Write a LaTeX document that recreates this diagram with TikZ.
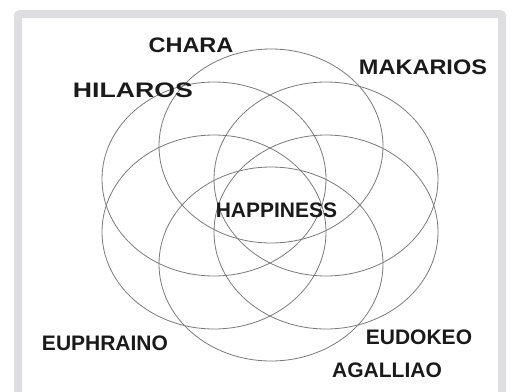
\documentclass[tikz,border=0pt]{standalone}
\usepackage{fontspec}
\setmainfont{Liberation Sans}
\usepackage{graphicx}
\usepackage{xcolor}
\definecolor{framegray}{HTML}{DEDEE0}
\definecolor{ringgray}{HTML}{7A7A7A}
\definecolor{wordblack}{HTML}{1A1A1A}
\usetikzlibrary{positioning}
\tikzset{
  ring/.style ={draw=ringgray, line width=0.8pt},
  frame/.style={draw=framegray, line width=8pt, rounded corners=2pt},
  wordlbl/.style={font=\fontsize{21}{25}\selectfont\bfseries, text=wordblack, inner sep=0pt},
}

\begin{document}
\begin{tikzpicture}[x=1pt, y=-1pt]
  \useasboundingbox (0,0) rectangle (514,391);
  \draw[frame] (18,400) -- (18,14) -- (502,14) -- (502,400);
  % six overlapping ellipses
  \foreach \cx/\cy in {271/146, 214/179, 326/179, 214/232, 326/232, 271/264}
    \draw[ring] (\cx,\cy) ellipse [x radius=112pt, y radius=97pt];
  \node[wordlbl] (chara) at (191,45) {\scalebox{1.12}[1]{CHARA}};
  \node[wordlbl] (makarios) at (423,67.5) {\scalebox{1.12}[1]{MAKARIOS}};
  \node[wordlbl] (hilaros) at (133,90) {\scalebox{1.27}[1]{HILAROS}};
  \node[wordlbl] (happiness) at (276.5,210.5) {HAPPINESS};
  \node[wordlbl] (euphraino) at (105,343.5) {EUPHRAINO};
  \node[wordlbl] (eudokeo) at (419,337.5) {EUDOKEO};
  \node[wordlbl] (agalliao) at (387,370.5) {AGALLIAO};
\end{tikzpicture}
\end{document}
